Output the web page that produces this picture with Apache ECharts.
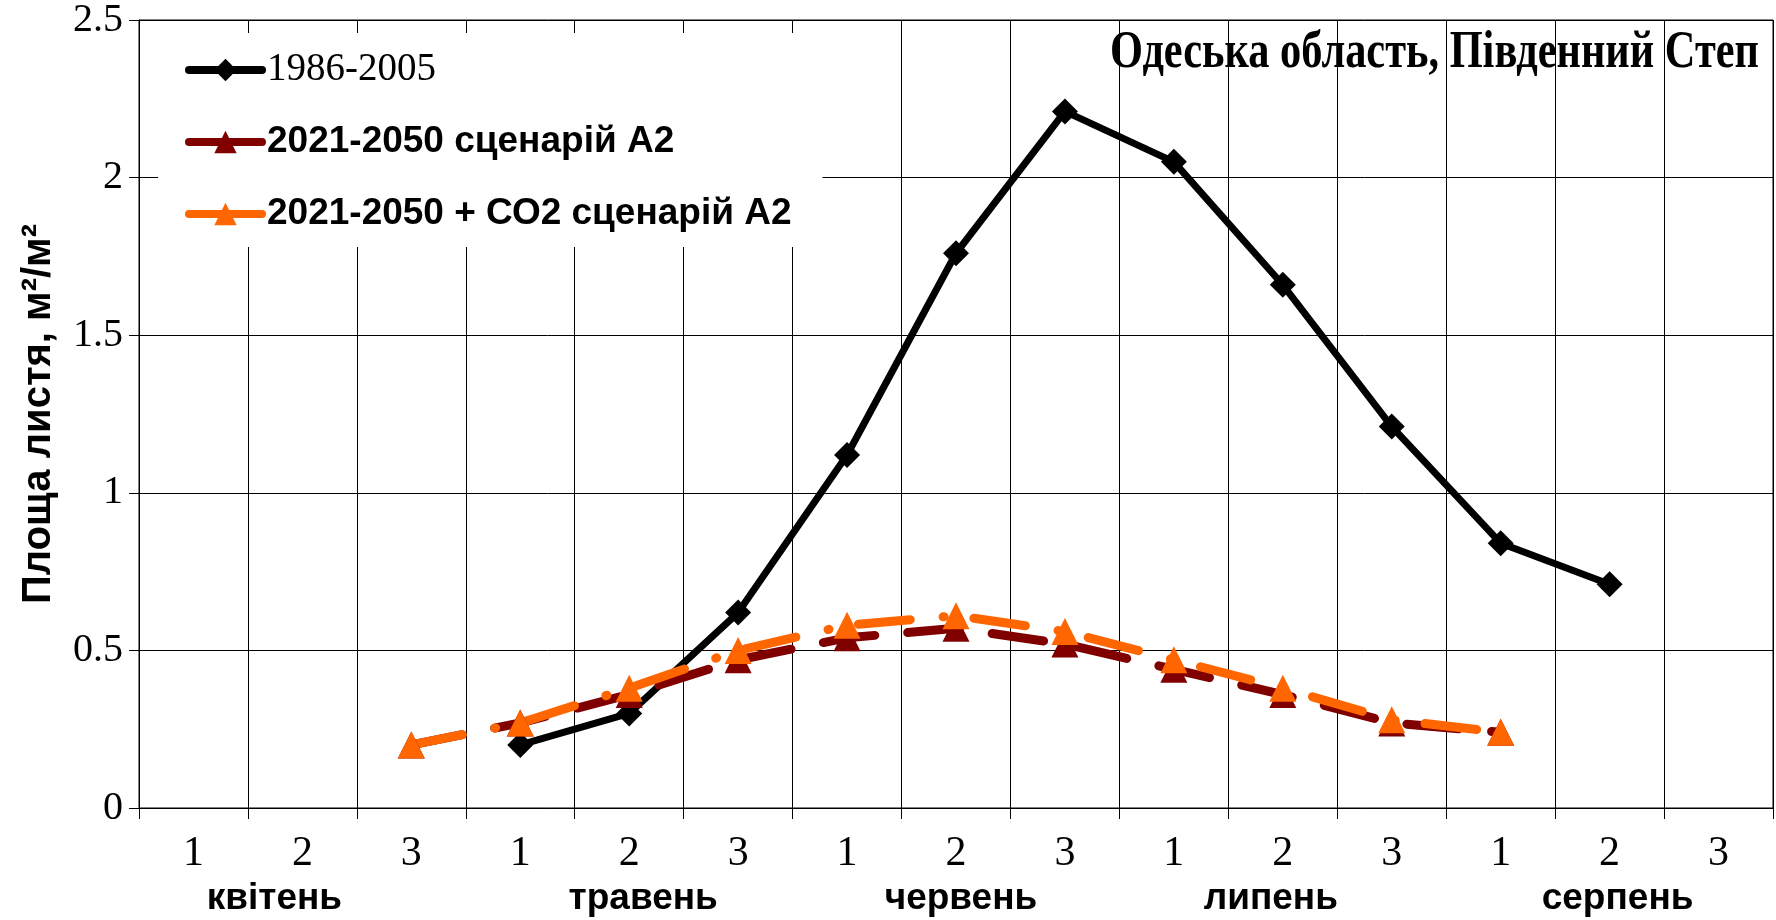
<!DOCTYPE html>
<html>
<head>
<meta charset="utf-8">
<script src="https://cdn.jsdelivr.net/npm/echarts@6/dist/echarts.min.js"></script>
<style>
  html, body { margin: 0; padding: 0; background: #fff; }
  #chart { width: 1776px; height: 920px; }
</style>
</head>
<body>
<div id="chart"></div>
<script>
// Leaf area index by ten-day period (декада), Odesa region
const decades = ['1', '2', '3', '1', '2', '3', '1', '2', '3', '1', '2', '3', '1', '2', '3'];
const months = ['квітень', 'травень', 'червень', 'липень', 'серпень'];
const yTicks = [0, 0.5, 1, 1.5, 2, 2.5];

const seriesNames = ['1986-2005', '2021-2050 сценарій А2', '2021-2050 + СО2 сценарій А2'];
const baseline = [null, null, null, 0.20, 0.30, 0.62, 1.12, 1.76, 2.21, 2.05, 1.66, 1.21, 0.84, 0.71, null];
const scenarioA2 = [null, null, 0.20, 0.27, 0.36, 0.47, 0.54, 0.57, 0.52, 0.44, 0.36, 0.27, 0.24, null, null];
const scenarioA2co2 = [null, null, 0.20, 0.27, 0.38, 0.50, 0.58, 0.61, 0.56, 0.47, 0.38, 0.28, 0.24, null, null];

const titleText = 'Одеська область, Південний Степ';
const yName = 'Площа листя, м²/м²';

const serif = '"Liberation Serif", "Times New Roman", serif';
const sans = '"Liberation Sans", Arial, sans-serif';

// month captions sit slightly off-centre under their three decades
const monthShift = [-28, 14, 5, -12, 8];
const monthRich = {};
monthShift.forEach((s, i) => {
  monthRich['m' + i] = {
    fontFamily: sans, fontWeight: 'bold', fontSize: 37, color: '#000',
    padding: s < 0 ? [0, -2 * s, 0, 0] : [0, 0, 0, 2 * s]
  };
});

const chart = echarts.init(document.getElementById('chart'), null, { renderer: 'canvas' });

chart.setOption({
  animation: false,
  backgroundColor: '#fff',
  graphic: [
    {
      // narrow, tall heading in the top-right corner of the plot
      type: 'text',
      left: 1110,
      top: 27,
      scaleX: 0.80,
      z: 10,
      style: {
        text: titleText,
        fontFamily: serif,
        fontWeight: 'bold',
        fontSize: 53,
        fill: '#000',
        textAlign: 'left',
        textVerticalAlign: 'top'
      }
    }
  ],
  legend: {
    orient: 'vertical',
    left: 158,
    top: 33,
    backgroundColor: '#fff',
    padding: [17, 31, 13, 27],
    itemGap: 32,
    itemWidth: 73,
    itemHeight: 28,
    itemTextGap: 6,
    lineStyle: { type: 'solid', width: 8, cap: 'round' },
    textStyle: { fontSize: 37, color: '#000', lineHeight: 40 },
    data: [
      { name: seriesNames[0], textStyle: { fontFamily: serif, fontWeight: 'normal', fontSize: 39 } },
      { name: seriesNames[1], textStyle: { fontFamily: sans, fontWeight: 'bold' } },
      { name: seriesNames[2], textStyle: { fontFamily: sans, fontWeight: 'bold' } }
    ]
  },
  grid: {
    left: 139, right: 3, top: 20, bottom: 112,
    show: true, borderColor: '#000', borderWidth: 1,
    outerBoundsMode: 'none'
  },
  xAxis: [
    {
      type: 'category',
      data: decades,
      boundaryGap: true,
      axisLine: { lineStyle: { color: '#000', width: 1 } },
      axisTick: { show: true, interval: 0, length: 11, lineStyle: { color: '#000' } },
      splitLine: { show: true, interval: 0, lineStyle: { color: '#000', width: 1 } },
      axisLabel: { interval: 0, margin: 25, fontFamily: serif, fontSize: 42, color: '#000' }
    },
    {
      type: 'category',
      data: months,
      position: 'bottom',
      boundaryGap: true,
      axisLine: { show: false },
      axisTick: { show: false },
      splitLine: { show: false },
      axisLabel: {
        interval: 0, margin: 72,
        formatter: (v, i) => '{m' + i + '|' + v + '}',
        rich: monthRich
      }
    }
  ],
  yAxis: {
    type: 'value',
    min: yTicks[0],
    max: yTicks[yTicks.length - 1],
    interval: 0.5,
    name: yName,
    nameLocation: 'middle',
    nameGap: 80,
    nameTextStyle: { fontFamily: sans, fontWeight: 'bold', fontSize: 40, color: '#000' },
    axisLine: { show: true, lineStyle: { color: '#000', width: 1 } },
    axisTick: { show: true, length: 10, lineStyle: { color: '#000' } },
    splitLine: { show: true, lineStyle: { color: '#000', width: 1 } },
    axisLabel: { margin: 16, fontFamily: serif, fontSize: 40, color: '#000' }
  },
  series: [
    {
      name: seriesNames[0],
      type: 'line',
      data: baseline,
      connectNulls: false,
      symbol: 'diamond',
      symbolSize: 26,
      itemStyle: { color: '#000' },
      lineStyle: { color: '#000', width: 7, join: 'round' }
    },
    {
      name: seriesNames[1],
      type: 'line',
      data: scenarioA2,
      symbol: 'triangle',
      symbolSize: 27,
      itemStyle: { color: '#800000' },
      lineStyle: { color: '#800000', width: 9, type: [52, 33], cap: 'round' }
    },
    {
      name: seriesNames[2],
      type: 'line',
      data: scenarioA2co2,
      symbol: 'triangle',
      symbolSize: 27,
      itemStyle: { color: '#ff6600' },
      lineStyle: { color: '#ff6600', width: 9, type: [52, 33, 1, 30], cap: 'round' }
    }
  ]
});
</script>
</body>
</html>
